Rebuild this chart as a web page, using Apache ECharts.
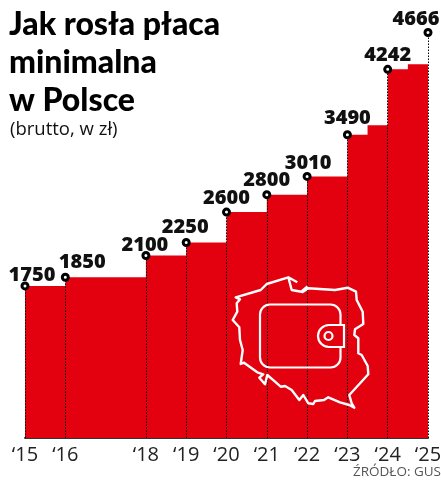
<!DOCTYPE html>
<html>
<head>
<meta charset="utf-8">
<title>Jak rosła płaca minimalna w Polsce</title>
<script src="https://cdn.jsdelivr.net/npm/echarts@6/dist/echarts.min.js"></script>
<style>
	html, body { margin: 0; padding: 0; background: #fff; }
	#chart { width: 441px; height: 481px; }
</style>
</head>
<body>
<div id="chart"></div>
<script>
// wages announced at each tick
var years = [2015, 2016, 2018, 2019, 2020, 2021, 2022, 2023, 2024, 2025];
var wages = [1750, 1850, 2100, 2250, 2600, 2800, 3010, 3490, 4242, 4666];
var tickLabels = ['‘15', '‘16', '‘18', '‘19', '‘20', '‘21', '‘22', '‘23', '‘24', '‘25'];

// the red steps, with the mid-year raises of 2023 and 2024
var stepYears = [2015, 2016, 2018, 2019, 2020, 2021, 2022, 2023, 2023.5, 2024, 2024.5, 2025];
var stepWages = [1750, 1850, 2100, 2250, 2600, 2800, 3010, 3490, 3600, 4242, 4300, 4300];

// label nudges from the dot, one per year
var labelShift = [[7, 9], [17, 5], [-1, 9], [-1, 4], [0, 6], [0, 5], [1, 6], [0, 3], [0, 5], [-12, 6]];

// decoration: outline of Poland and the wallet, in page pixels
var polandOutline = [
	[297.3,282.3],[288.3,277.3],[266.7,284],[260.7,290],[235.7,297.3],[240,299.3],[236.7,303.3],[237.3,311.7],
	[232.7,320],[239.3,327.3],[240,340],[242.7,350],[240.7,364],[244,362.7],[257.3,372.3],[263.3,374.3],
	[259.3,377.7],[265,384.3],[267.3,375],[275,381.7],[280.7,386.7],[285,386],[291.7,390],[299.3,400],
	[303.3,395],[308.3,403.3],[313.3,404],[315,401],[324,400],[328.3,397.3],[340,402.3],[349.3,405],
	[354.3,407.7],[351.7,403.3],[349.3,395],[368.3,374.3],[367.7,366],[361.7,355],[358.3,353.3],[358.3,338.3],
	[354.3,335],[355,329.3],[363.3,324],[362.7,311.7],[356.7,300],[356,291.7],[347.7,287.7],[335,290],
	[308.3,288.3],[302.7,292],[291.7,290],[288.3,277.3]
];
var polandSpit = [[307.5,286.5],[301,292]];

var RED = '#e3000f';

var chart = echarts.init(document.getElementById('chart'));

var stepData = stepYears.map(function(y, i) { return [y, stepWages[i]]; });
var dotData = years.map(function(y, i) {
	return {
		value: [y, wages[i]],
		label: { offset: labelShift[i] }
	};
});
var dottedLines = years.map(function(y, i) {
	return [{ coord: [y, 0] }, { coord: [y, wages[i]] }];
});

var option = {
	animation: false,
	title: [
		{
			text: 'Jak rosła płaca\nminimalna\nw Polsce',
			left: 9,
			top: 6,
			padding: 0,
			textStyle: { fontFamily: 'Lato', fontWeight: 900, fontSize: 32, lineHeight: 38, color: '#000' }
		},
		{
			text: '(brutto, w zł)',
			left: 10,
			top: 120,
			padding: 0,
			textStyle: { fontFamily: 'Open Sans', fontWeight: 400, fontSize: 18.5, color: '#111' }
		},
		{
			text: 'ŹRÓDŁO: GUS',
			right: 0,
			top: 465,
			padding: 0,
			textStyle: { fontFamily: 'Open Sans', fontWeight: 400, fontSize: 13.5, color: '#555' }
		}
	],
	grid: { left: 25, right: 13, top: 3.5, height: 434.5, outerBoundsMode: 'none' },
	xAxis: {
		type: 'value',
		min: 2015,
		max: 2025,
		splitLine: { show: false },
		axisLine: { show: true, onZero: false, lineStyle: { color: '#333', width: 2 } },
		axisTick: { show: false },
		axisLabel: {
			customValues: years,
			formatter: function(v) { return tickLabels[years.indexOf(v)]; },
			margin: 7,
			fontFamily: 'Open Sans',
			fontSize: 20,
			color: '#222',
			showMinLabel: true,
			showMaxLabel: true,
			hideOverlap: false
		}
	},
	yAxis: { type: 'value', min: 0, max: 5000, show: false },
	series: [
		{
			type: 'line',
			step: 'end',
			data: stepData,
			showSymbol: false,
			lineStyle: { width: 0 },
			areaStyle: { color: RED, opacity: 1 },
			silent: true,
			z: 1,
			markLine: {
				silent: true,
				symbol: 'none',
				label: { show: false },
				lineStyle: { type: [1.5, 1.5], color: '#000', width: 1 },
				data: dottedLines
			}
		},
		{
			type: 'scatter',
			data: dotData,
			symbol: 'circle',
			symbolSize: 6,
			itemStyle: { color: '#fff', borderColor: '#000', borderWidth: 3, opacity: 1 },
			label: {
				show: true,
				position: 'top',
				distance: 5,
				fontFamily: 'Open Sans',
				fontWeight: 800,
				fontSize: 20,
				color: '#111',
				formatter: function(p) { return p.value[1]; }
			},
			z: 5
		}
	],
	graphic: [
		{
			type: 'polyline',
			z: 10,
			shape: { points: polandOutline },
			style: { stroke: '#fff', fill: 'none', lineWidth: 2.4, lineJoin: 'round' }
		},
		{
			type: 'polyline',
			z: 10,
			shape: { points: polandSpit },
			style: { stroke: '#fff', fill: 'none', lineWidth: 2.4 }
		},
		{
			type: 'rect',
			z: 10,
			shape: { x: 260, y: 304.5, width: 80.5, height: 63, r: 10 },
			style: { stroke: '#fff', fill: 'none', lineWidth: 2.2 }
		},
		{
			type: 'rect',
			z: 11,
			shape: { x: 318, y: 325, width: 26, height: 22, r: [11, 0, 0, 11] },
			style: { stroke: '#fff', fill: RED, lineWidth: 2.2 }
		},
		{
			type: 'circle',
			z: 12,
			shape: { cx: 328.5, cy: 336, r: 4 },
			style: { stroke: '#fff', fill: 'none', lineWidth: 2.2 }
		}
	]
};

chart.setOption(option);
</script>
</body>
</html>
